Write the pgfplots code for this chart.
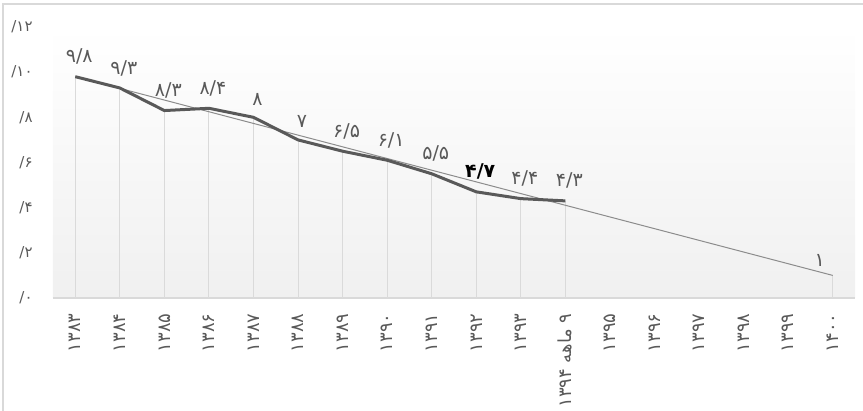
\documentclass[border=0pt]{standalone}
\usepackage{fontspec}
\usepackage{pgfplots}
\pgfplotsset{compat=1.18}
\TeXXeTstate=1
\newfontfamily\arabicfont[Script=Arabic]{DejaVu Sans}
\definecolor{txtgray}{HTML}{595959}
\definecolor{linegray}{HTML}{595959}
\definecolor{trendgray}{HTML}{8C8C8C}
\definecolor{dropgray}{HTML}{DADADA}
\definecolor{bggray}{HTML}{F0F0F0}
\definecolor{bordergray}{HTML}{D9D9D9}

\begin{document}
\begin{tikzpicture}
\path[use as bounding box] (0,0) rectangle (431.5pt,205.5pt);
\draw[bordergray, line width=0.6pt] (1.5pt,0) -- (1.5pt,203.5pt) -- (431.5pt,203.5pt);

\begin{axis}[
    at={(26.5pt,56.5pt)}, anchor=south west,
    scale only axis,
    width=401pt, height=135.5pt,
    xmin=-0.5, xmax=17.5,
    ymin=0, ymax=12,
    axis x line*=bottom, axis y line*=left,
    x axis line style={draw=bordergray, line width=0.6pt, -},
    y axis line style={draw=none},
    major tick length=0pt,
    axis background/.style={shade, top color=white, bottom color=bggray},
    xtick={0,...,17},
    xticklabels={۱۳۸۳,۱۳۸۴,۱۳۸۵,۱۳۸۶,۱۳۸۷,۱۳۸۸,۱۳۸۹,۱۳۹۰,۱۳۹۱,۱۳۹۲,۱۳۹۳,
        {\beginR ۹ ماهه \beginL۱۳۹۴\endL\endR},۱۳۹۵,۱۳۹۶,۱۳۹۷,۱۳۹۸,۱۳۹۹,۱۴۰۰},
    xticklabel style={yshift=-7.5pt, rotate=90, anchor=east, inner sep=0pt,
        text=txtgray, font=\arabicfont\fontsize{9}{10}\selectfont},
    ytick={0,2,...,12},
    % written digits-first: the Arabic-script run is laid out right to left
    yticklabels={۰/,۲/,۴/,۶/,۸/,۱۰/,۱۲/},
    yticklabel style={xshift=-10pt, anchor=east, inner sep=0pt,
        text=txtgray, font=\arabicfont\fontsize{7.5}{9}\selectfont},
    clip=false,
]

% drop lines
\addplot[ycomb, draw=dropgray, line width=0.5pt, mark=none, forget plot] coordinates {
    (0,9.8) (1,9.3) (2,8.3) (3,8.4) (4,8.0) (5,7.0) (6,6.5) (7,6.1)
    (8,5.5) (9,4.7) (10,4.4) (11,4.3) (17,1.0)
};

% linear trend
\addplot[trendgray, line width=0.5pt, mark=none] coordinates {
    (0,9.8) (17,1.0)
};
\addplot[draw=none, mark=none, nodes near coords={۱},
    every node near coord/.append style={anchor=south, yshift=1pt, xshift=-6.5pt,
        text=txtgray, font=\arabicfont\fontsize{9.5}{11}\selectfont}]
    coordinates {(17,1.0)};

% main series
\addplot[linegray, line width=1.5pt, line join=round, mark=none,
    nodes near coords, point meta=explicit symbolic,
    every node near coord/.append style={anchor=south, yshift=2pt, xshift=2pt,
        text=txtgray, font=\arabicfont\fontsize{9.5}{11}\selectfont}]
    coordinates {
    (0,9.8) [۹/۸]
    (1,9.3) [۹/۳]
    (2,8.3) [۸/۳]
    (3,8.4) [۸/۴]
    (4,8.0) [۸]
    (5,7.0) [۷]
    (6,6.5) [۶/۵]
    (7,6.1) [۶/۱]
    (8,5.5) [۵/۵]
    (9,4.7) [{\color{black}\bfseries ۴/۷}]
    (10,4.4) [۴/۴]
    (11,4.3) [۴/۳]
};
\end{axis}
\end{tikzpicture}
\end{document}
